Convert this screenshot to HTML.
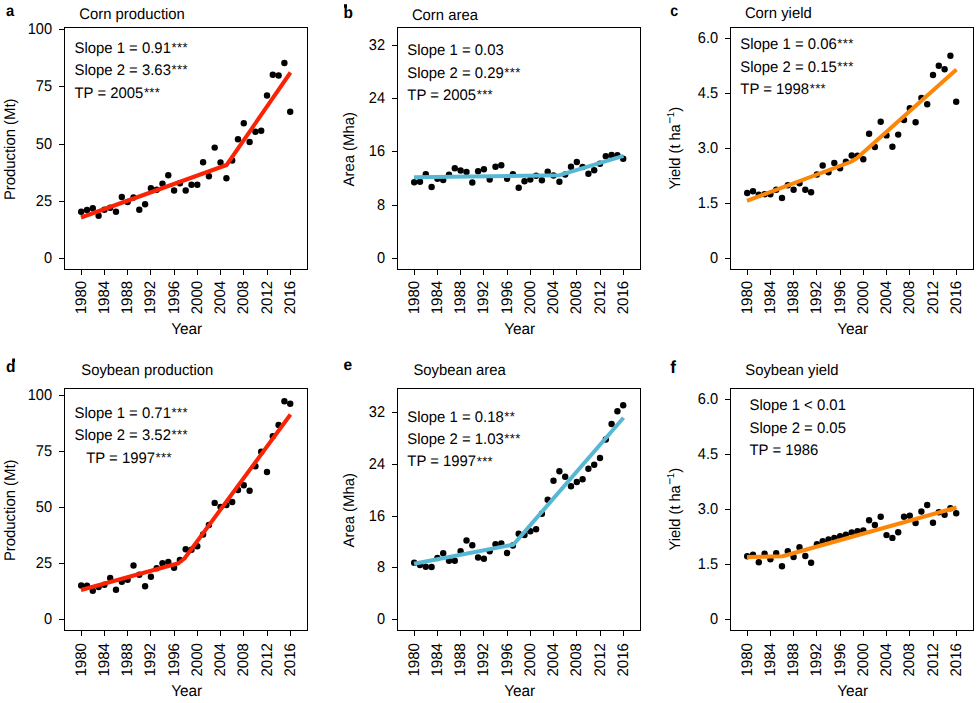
<!DOCTYPE html>
<html><head><meta charset="utf-8"><title>Corn and soybean trends</title>
<style>
html,body{margin:0;padding:0;background:#fff;}
body{width:978px;height:703px;overflow:hidden;}
svg{display:block;font-family:"Liberation Sans",sans-serif;font-size:15.3px;fill:#000;text-rendering:geometricPrecision;}
.ax{stroke:#000;stroke-width:1;fill:none;stroke-linecap:butt;}
.b{font-weight:bold;font-size:15.5px;}
</style></head><body>
<svg width="978" height="703" viewBox="0 0 978 703">
<rect width="978" height="703" fill="#fff"/>
<g id="panel-a">
<text class="b" transform="translate(6.00 15.70) scale(0.950 1.030)">a</text>
<text transform="translate(79.30 18.60) scale(0.970 1)">Corn production</text>
<g fill="#000"><circle cx="81.2" cy="211.7" r="3.2"/><circle cx="87.0" cy="210.0" r="3.2"/><circle cx="92.8" cy="208.3" r="3.2"/><circle cx="98.6" cy="215.8" r="3.2"/><circle cx="104.4" cy="209.7" r="3.2"/><circle cx="110.2" cy="207.8" r="3.2"/><circle cx="116.0" cy="211.7" r="3.2"/><circle cx="121.8" cy="197.0" r="3.2"/><circle cx="127.6" cy="202.0" r="3.2"/><circle cx="133.5" cy="197.5" r="3.2"/><circle cx="139.3" cy="209.7" r="3.2"/><circle cx="145.1" cy="204.2" r="3.2"/><circle cx="150.9" cy="188.3" r="3.2"/><circle cx="156.7" cy="189.7" r="3.2"/><circle cx="162.5" cy="183.8" r="3.2"/><circle cx="168.3" cy="175.3" r="3.2"/><circle cx="174.1" cy="190.5" r="3.2"/><circle cx="179.9" cy="183.3" r="3.2"/><circle cx="185.7" cy="190.5" r="3.2"/><circle cx="191.5" cy="184.7" r="3.2"/><circle cx="197.3" cy="184.7" r="3.2"/><circle cx="203.1" cy="162.2" r="3.2"/><circle cx="208.9" cy="176.2" r="3.2"/><circle cx="214.7" cy="147.6" r="3.2"/><circle cx="220.5" cy="162.5" r="3.2"/><circle cx="226.4" cy="178.2" r="3.2"/><circle cx="232.2" cy="160.5" r="3.2"/><circle cx="238.0" cy="139.2" r="3.2"/><circle cx="243.8" cy="123.3" r="3.2"/><circle cx="249.6" cy="142.0" r="3.2"/><circle cx="255.4" cy="131.7" r="3.2"/><circle cx="261.2" cy="130.8" r="3.2"/><circle cx="267.0" cy="95.5" r="3.2"/><circle cx="272.8" cy="74.7" r="3.2"/><circle cx="278.6" cy="75.5" r="3.2"/><circle cx="284.4" cy="63.0" r="3.2"/><circle cx="290.2" cy="111.7" r="3.2"/></g>
<polyline fill="none" stroke="#fa2306" stroke-width="4" stroke-linejoin="round" points="81.0,217.5 226.6,165.0 290.5,72.5"/>
<rect class="ax" x="64.5" y="27.5" width="243.0" height="242.0"/>
<path class="ax" d="M59.0 29.5H64.5M59.0 86.5H64.5M59.0 144.5H64.5M59.0 201.5H64.5M59.0 258.5H64.5M81.5 269.5V275.0M104.5 269.5V275.0M127.5 269.5V275.0M150.5 269.5V275.0M174.5 269.5V275.0M197.5 269.5V275.0M220.5 269.5V275.0M243.5 269.5V275.0M267.5 269.5V275.0M290.5 269.5V275.0"/>
<text transform="translate(52.10 34.10) scale(0.936 1)" text-anchor="end" font-size="15.6">100</text>
<text transform="translate(52.10 91.10) scale(0.936 1)" text-anchor="end" font-size="15.6">75</text>
<text transform="translate(52.10 149.10) scale(0.936 1)" text-anchor="end" font-size="15.6">50</text>
<text transform="translate(52.10 206.10) scale(0.936 1)" text-anchor="end" font-size="15.6">25</text>
<text transform="translate(52.10 263.10) scale(0.936 1)" text-anchor="end" font-size="15.6">0</text>
<text transform="translate(86.00 280.80) rotate(-90) scale(0.985 1)" text-anchor="end">1980</text>
<text transform="translate(109.00 280.80) rotate(-90) scale(0.985 1)" text-anchor="end">1984</text>
<text transform="translate(132.00 280.80) rotate(-90) scale(0.985 1)" text-anchor="end">1988</text>
<text transform="translate(155.00 280.80) rotate(-90) scale(0.985 1)" text-anchor="end">1992</text>
<text transform="translate(179.00 280.80) rotate(-90) scale(0.985 1)" text-anchor="end">1996</text>
<text transform="translate(202.00 280.80) rotate(-90) scale(0.985 1)" text-anchor="end">2000</text>
<text transform="translate(225.00 280.80) rotate(-90) scale(0.985 1)" text-anchor="end">2004</text>
<text transform="translate(248.00 280.80) rotate(-90) scale(0.985 1)" text-anchor="end">2008</text>
<text transform="translate(272.00 280.80) rotate(-90) scale(0.985 1)" text-anchor="end">2012</text>
<text transform="translate(295.00 280.80) rotate(-90) scale(0.985 1)" text-anchor="end">2016</text>
<text transform="translate(186.70 333.70) scale(0.985 1)" text-anchor="middle" font-size="15.6">Year</text>
<text transform="translate(15.30 149.30) rotate(-90) scale(0.972 1)" text-anchor="middle">Production (Mt)</text>
<text transform="translate(74.50 53.00) scale(0.973 1)">Slope 1 = 0.91<tspan font-size="13.5" dx="0.6" dy="-0.9" letter-spacing="0.35">***</tspan></text>
<text transform="translate(74.50 74.50) scale(0.973 1)">Slope 2 = 3.63<tspan font-size="13.5" dx="0.6" dy="-0.9" letter-spacing="0.35">***</tspan></text>
<text transform="translate(74.50 97.80) scale(0.973 1)">TP = 2005<tspan font-size="13.5" dx="0.6" dy="-0.9" letter-spacing="0.35">***</tspan></text>
</g>
<g id="panel-b">
<text class="b" transform="translate(343.50 17.65) scale(1.000 1.050)">b</text>
<rect x="344.00" y="4.20" width="3.00" height="3.50" fill="#000"/>
<text transform="translate(411.90 20.00) scale(0.970 1)">Corn area</text>
<g fill="#000"><circle cx="414.2" cy="182.2" r="3.2"/><circle cx="420.0" cy="181.7" r="3.2"/><circle cx="425.8" cy="174.2" r="3.2"/><circle cx="431.6" cy="187.0" r="3.2"/><circle cx="437.4" cy="178.7" r="3.2"/><circle cx="443.2" cy="180.0" r="3.2"/><circle cx="449.0" cy="174.7" r="3.2"/><circle cx="454.8" cy="168.3" r="3.2"/><circle cx="460.6" cy="170.5" r="3.2"/><circle cx="466.5" cy="172.0" r="3.2"/><circle cx="472.3" cy="182.5" r="3.2"/><circle cx="478.1" cy="171.2" r="3.2"/><circle cx="483.9" cy="169.2" r="3.2"/><circle cx="489.7" cy="179.5" r="3.2"/><circle cx="495.5" cy="166.7" r="3.2"/><circle cx="501.3" cy="165.3" r="3.2"/><circle cx="507.1" cy="178.8" r="3.2"/><circle cx="512.9" cy="174.3" r="3.2"/><circle cx="518.7" cy="187.8" r="3.2"/><circle cx="524.5" cy="181.2" r="3.2"/><circle cx="530.3" cy="179.6" r="3.2"/><circle cx="536.1" cy="175.8" r="3.2"/><circle cx="541.9" cy="180.3" r="3.2"/><circle cx="547.7" cy="171.7" r="3.2"/><circle cx="553.5" cy="175.5" r="3.2"/><circle cx="559.4" cy="181.7" r="3.2"/><circle cx="565.2" cy="174.5" r="3.2"/><circle cx="571.0" cy="166.7" r="3.2"/><circle cx="576.8" cy="162.0" r="3.2"/><circle cx="582.6" cy="167.0" r="3.2"/><circle cx="588.4" cy="173.8" r="3.2"/><circle cx="594.2" cy="170.3" r="3.2"/><circle cx="600.0" cy="163.8" r="3.2"/><circle cx="605.8" cy="156.3" r="3.2"/><circle cx="611.6" cy="155.0" r="3.2"/><circle cx="617.4" cy="155.3" r="3.2"/><circle cx="623.2" cy="158.8" r="3.2"/></g>
<polyline fill="none" stroke="#58b8d4" stroke-width="4" stroke-linejoin="round" points="414.0,177.2 559.6,175.2 623.5,155.8"/>
<rect class="ax" x="397.5" y="27.5" width="243.0" height="242.0"/>
<path class="ax" d="M392.0 45.5H397.5M392.0 98.5H397.5M392.0 151.5H397.5M392.0 205.5H397.5M392.0 258.5H397.5M414.5 269.5V275.0M437.5 269.5V275.0M460.5 269.5V275.0M483.5 269.5V275.0M507.5 269.5V275.0M530.5 269.5V275.0M553.5 269.5V275.0M576.5 269.5V275.0M600.5 269.5V275.0M623.5 269.5V275.0"/>
<text transform="translate(385.10 50.10) scale(0.936 1)" text-anchor="end" font-size="15.6">32</text>
<text transform="translate(385.10 103.10) scale(0.936 1)" text-anchor="end" font-size="15.6">24</text>
<text transform="translate(385.10 156.10) scale(0.936 1)" text-anchor="end" font-size="15.6">16</text>
<text transform="translate(385.10 210.10) scale(0.936 1)" text-anchor="end" font-size="15.6">8</text>
<text transform="translate(385.10 263.10) scale(0.936 1)" text-anchor="end" font-size="15.6">0</text>
<text transform="translate(419.00 280.80) rotate(-90) scale(0.985 1)" text-anchor="end">1980</text>
<text transform="translate(442.00 280.80) rotate(-90) scale(0.985 1)" text-anchor="end">1984</text>
<text transform="translate(465.00 280.80) rotate(-90) scale(0.985 1)" text-anchor="end">1988</text>
<text transform="translate(488.00 280.80) rotate(-90) scale(0.985 1)" text-anchor="end">1992</text>
<text transform="translate(512.00 280.80) rotate(-90) scale(0.985 1)" text-anchor="end">1996</text>
<text transform="translate(535.00 280.80) rotate(-90) scale(0.985 1)" text-anchor="end">2000</text>
<text transform="translate(558.00 280.80) rotate(-90) scale(0.985 1)" text-anchor="end">2004</text>
<text transform="translate(581.00 280.80) rotate(-90) scale(0.985 1)" text-anchor="end">2008</text>
<text transform="translate(605.00 280.80) rotate(-90) scale(0.985 1)" text-anchor="end">2012</text>
<text transform="translate(628.00 280.80) rotate(-90) scale(0.985 1)" text-anchor="end">2016</text>
<text transform="translate(519.70 333.70) scale(0.985 1)" text-anchor="middle" font-size="15.6">Year</text>
<text transform="translate(354.00 149.30) rotate(-90) scale(0.972 1)" text-anchor="middle">Area (Mha)</text>
<text transform="translate(407.30 54.70) scale(0.973 1)">Slope 1 = 0.03</text>
<text transform="translate(407.30 77.70) scale(0.973 1)">Slope 2 = 0.29<tspan font-size="13.5" dx="0.6" dy="-0.9" letter-spacing="0.35">***</tspan></text>
<text transform="translate(407.30 100.00) scale(0.973 1)">TP = 2005<tspan font-size="13.5" dx="0.6" dy="-0.9" letter-spacing="0.35">***</tspan></text>
</g>
<g id="panel-c">
<text class="b" transform="translate(670.30 15.70) scale(0.920 1.030)">c</text>
<text transform="translate(744.90 18.30) scale(0.970 1)">Corn yield</text>
<g fill="#000"><circle cx="747.2" cy="193.0" r="3.2"/><circle cx="753.0" cy="191.2" r="3.2"/><circle cx="758.8" cy="194.7" r="3.2"/><circle cx="764.6" cy="194.2" r="3.2"/><circle cx="770.4" cy="194.2" r="3.2"/><circle cx="776.2" cy="189.7" r="3.2"/><circle cx="782.0" cy="198.0" r="3.2"/><circle cx="787.8" cy="185.3" r="3.2"/><circle cx="793.6" cy="189.7" r="3.2"/><circle cx="799.5" cy="183.3" r="3.2"/><circle cx="805.3" cy="189.7" r="3.2"/><circle cx="811.1" cy="192.2" r="3.2"/><circle cx="816.9" cy="174.5" r="3.2"/><circle cx="822.7" cy="165.5" r="3.2"/><circle cx="828.5" cy="172.2" r="3.2"/><circle cx="834.3" cy="163.0" r="3.2"/><circle cx="840.1" cy="168.3" r="3.2"/><circle cx="845.9" cy="161.7" r="3.2"/><circle cx="851.7" cy="155.5" r="3.2"/><circle cx="857.5" cy="155.8" r="3.2"/><circle cx="863.3" cy="159.2" r="3.2"/><circle cx="869.1" cy="133.7" r="3.2"/><circle cx="874.9" cy="147.0" r="3.2"/><circle cx="880.7" cy="121.8" r="3.2"/><circle cx="886.5" cy="135.4" r="3.2"/><circle cx="892.4" cy="146.8" r="3.2"/><circle cx="898.2" cy="134.6" r="3.2"/><circle cx="904.0" cy="120.0" r="3.2"/><circle cx="909.8" cy="108.3" r="3.2"/><circle cx="915.6" cy="122.2" r="3.2"/><circle cx="921.4" cy="98.0" r="3.2"/><circle cx="927.2" cy="104.2" r="3.2"/><circle cx="933.0" cy="75.0" r="3.2"/><circle cx="938.8" cy="65.8" r="3.2"/><circle cx="944.6" cy="69.2" r="3.2"/><circle cx="950.4" cy="55.8" r="3.2"/><circle cx="956.2" cy="101.7" r="3.2"/></g>
<polyline fill="none" stroke="#fb8608" stroke-width="4" stroke-linejoin="round" points="747.0,200.8 850.5,162.0 856.5,158.5 956.5,69.5"/>
<rect class="ax" x="730.5" y="27.5" width="243.0" height="242.0"/>
<path class="ax" d="M725.0 38.5H730.5M725.0 93.5H730.5M725.0 148.5H730.5M725.0 203.5H730.5M725.0 258.5H730.5M747.5 269.5V275.0M770.5 269.5V275.0M793.5 269.5V275.0M816.5 269.5V275.0M840.5 269.5V275.0M863.5 269.5V275.0M886.5 269.5V275.0M909.5 269.5V275.0M933.5 269.5V275.0M956.5 269.5V275.0"/>
<text transform="translate(718.10 43.10) scale(0.936 1)" text-anchor="end" font-size="15.6">6.0</text>
<text transform="translate(718.10 98.10) scale(0.936 1)" text-anchor="end" font-size="15.6">4.5</text>
<text transform="translate(718.10 153.10) scale(0.936 1)" text-anchor="end" font-size="15.6">3.0</text>
<text transform="translate(718.10 208.10) scale(0.936 1)" text-anchor="end" font-size="15.6">1.5</text>
<text transform="translate(718.10 263.10) scale(0.936 1)" text-anchor="end" font-size="15.6">0</text>
<text transform="translate(752.00 280.80) rotate(-90) scale(0.985 1)" text-anchor="end">1980</text>
<text transform="translate(775.00 280.80) rotate(-90) scale(0.985 1)" text-anchor="end">1984</text>
<text transform="translate(798.00 280.80) rotate(-90) scale(0.985 1)" text-anchor="end">1988</text>
<text transform="translate(821.00 280.80) rotate(-90) scale(0.985 1)" text-anchor="end">1992</text>
<text transform="translate(845.00 280.80) rotate(-90) scale(0.985 1)" text-anchor="end">1996</text>
<text transform="translate(868.00 280.80) rotate(-90) scale(0.985 1)" text-anchor="end">2000</text>
<text transform="translate(891.00 280.80) rotate(-90) scale(0.985 1)" text-anchor="end">2004</text>
<text transform="translate(914.00 280.80) rotate(-90) scale(0.985 1)" text-anchor="end">2008</text>
<text transform="translate(938.00 280.80) rotate(-90) scale(0.985 1)" text-anchor="end">2012</text>
<text transform="translate(961.00 280.80) rotate(-90) scale(0.985 1)" text-anchor="end">2016</text>
<text transform="translate(852.70 333.70) scale(0.985 1)" text-anchor="middle" font-size="15.6">Year</text>
<text transform="translate(680.30 148.20) rotate(-90) scale(0.954 1)" text-anchor="middle">Yield (t ha<tspan font-size="12.5px" dx="0.6" dy="-6.0">−</tspan><tspan font-size="10px" dx="-0.4" dy="-0.8">1</tspan><tspan dy="6.8">)</tspan></text>
<text transform="translate(740.30 48.70) scale(0.973 1)">Slope 1 = 0.06<tspan font-size="13.5" dx="0.6" dy="-0.9" letter-spacing="0.35">***</tspan></text>
<text transform="translate(740.30 72.00) scale(0.973 1)">Slope 2 = 0.15<tspan font-size="13.5" dx="0.6" dy="-0.9" letter-spacing="0.35">***</tspan></text>
<text transform="translate(740.30 94.10) scale(0.973 1)">TP = 1998<tspan font-size="13.5" dx="0.6" dy="-0.9" letter-spacing="0.35">***</tspan></text>
</g>
<g id="panel-d">
<text class="b" transform="translate(6.00 371.60) scale(1.000 1.050)">d</text>
<rect x="12.20" y="358.50" width="2.80" height="3.50" fill="#000"/>
<text transform="translate(81.30 374.60) scale(0.970 1)">Soybean production</text>
<g fill="#000"><circle cx="81.2" cy="585.5" r="3.2"/><circle cx="87.0" cy="585.8" r="3.2"/><circle cx="92.8" cy="590.8" r="3.2"/><circle cx="98.6" cy="587.0" r="3.2"/><circle cx="104.4" cy="584.7" r="3.2"/><circle cx="110.2" cy="578.0" r="3.2"/><circle cx="116.0" cy="589.7" r="3.2"/><circle cx="121.8" cy="581.7" r="3.2"/><circle cx="127.6" cy="579.7" r="3.2"/><circle cx="133.5" cy="565.5" r="3.2"/><circle cx="139.3" cy="574.7" r="3.2"/><circle cx="145.1" cy="586.2" r="3.2"/><circle cx="150.9" cy="576.7" r="3.2"/><circle cx="156.7" cy="568.3" r="3.2"/><circle cx="162.5" cy="563.3" r="3.2"/><circle cx="168.3" cy="562.0" r="3.2"/><circle cx="174.1" cy="567.7" r="3.2"/><circle cx="179.9" cy="560.0" r="3.2"/><circle cx="185.7" cy="549.2" r="3.2"/><circle cx="191.5" cy="549.7" r="3.2"/><circle cx="197.3" cy="546.2" r="3.2"/><circle cx="203.1" cy="534.5" r="3.2"/><circle cx="208.9" cy="525.0" r="3.2"/><circle cx="214.7" cy="502.9" r="3.2"/><circle cx="220.5" cy="507.0" r="3.2"/><circle cx="226.4" cy="505.0" r="3.2"/><circle cx="232.2" cy="502.0" r="3.2"/><circle cx="238.0" cy="490.0" r="3.2"/><circle cx="243.8" cy="485.3" r="3.2"/><circle cx="249.6" cy="490.8" r="3.2"/><circle cx="255.4" cy="466.2" r="3.2"/><circle cx="261.2" cy="451.7" r="3.2"/><circle cx="267.0" cy="472.0" r="3.2"/><circle cx="272.8" cy="436.2" r="3.2"/><circle cx="278.6" cy="425.0" r="3.2"/><circle cx="284.4" cy="401.2" r="3.2"/><circle cx="290.2" cy="403.7" r="3.2"/></g>
<polyline fill="none" stroke="#fa2306" stroke-width="4" stroke-linejoin="round" points="81.0,590.0 178.5,563.2 184.5,558.5 290.5,414.5"/>
<rect class="ax" x="64.5" y="388.5" width="243.0" height="242.0"/>
<path class="ax" d="M59.0 395.5H64.5M59.0 451.5H64.5M59.0 507.5H64.5M59.0 563.5H64.5M59.0 619.5H64.5M81.5 630.5V636.0M104.5 630.5V636.0M127.5 630.5V636.0M150.5 630.5V636.0M174.5 630.5V636.0M197.5 630.5V636.0M220.5 630.5V636.0M243.5 630.5V636.0M267.5 630.5V636.0M290.5 630.5V636.0"/>
<text transform="translate(52.10 400.10) scale(0.936 1)" text-anchor="end" font-size="15.6">100</text>
<text transform="translate(52.10 456.10) scale(0.936 1)" text-anchor="end" font-size="15.6">75</text>
<text transform="translate(52.10 512.10) scale(0.936 1)" text-anchor="end" font-size="15.6">50</text>
<text transform="translate(52.10 568.10) scale(0.936 1)" text-anchor="end" font-size="15.6">25</text>
<text transform="translate(52.10 624.10) scale(0.936 1)" text-anchor="end" font-size="15.6">0</text>
<text transform="translate(86.00 643.00) rotate(-90) scale(0.985 1)" text-anchor="end">1980</text>
<text transform="translate(109.00 643.00) rotate(-90) scale(0.985 1)" text-anchor="end">1984</text>
<text transform="translate(132.00 643.00) rotate(-90) scale(0.985 1)" text-anchor="end">1988</text>
<text transform="translate(155.00 643.00) rotate(-90) scale(0.985 1)" text-anchor="end">1992</text>
<text transform="translate(179.00 643.00) rotate(-90) scale(0.985 1)" text-anchor="end">1996</text>
<text transform="translate(202.00 643.00) rotate(-90) scale(0.985 1)" text-anchor="end">2000</text>
<text transform="translate(225.00 643.00) rotate(-90) scale(0.985 1)" text-anchor="end">2004</text>
<text transform="translate(248.00 643.00) rotate(-90) scale(0.985 1)" text-anchor="end">2008</text>
<text transform="translate(272.00 643.00) rotate(-90) scale(0.985 1)" text-anchor="end">2012</text>
<text transform="translate(295.00 643.00) rotate(-90) scale(0.985 1)" text-anchor="end">2016</text>
<text transform="translate(186.70 695.50) scale(0.985 1)" text-anchor="middle" font-size="15.6">Year</text>
<text transform="translate(15.30 510.30) rotate(-90) scale(0.972 1)" text-anchor="middle">Production (Mt)</text>
<text transform="translate(74.50 417.80) scale(0.973 1)">Slope 1 = 0.71<tspan font-size="13.5" dx="0.6" dy="-0.9" letter-spacing="0.35">***</tspan></text>
<text transform="translate(74.50 440.00) scale(0.973 1)">Slope 2 = 3.52<tspan font-size="13.5" dx="0.6" dy="-0.9" letter-spacing="0.35">***</tspan></text>
<text transform="translate(86.20 462.80) scale(0.973 1)">TP = 1997<tspan font-size="13.5" dx="0.6" dy="-0.9" letter-spacing="0.35">***</tspan></text>
</g>
<g id="panel-e">
<text class="b" transform="translate(343.50 370.25) scale(1.000 1.030)">e</text>
<text transform="translate(413.40 375.00) scale(0.970 1)">Soybean area</text>
<g fill="#000"><circle cx="414.2" cy="562.8" r="3.2"/><circle cx="420.0" cy="565.0" r="3.2"/><circle cx="425.8" cy="566.7" r="3.2"/><circle cx="431.6" cy="567.0" r="3.2"/><circle cx="437.4" cy="558.0" r="3.2"/><circle cx="443.2" cy="553.3" r="3.2"/><circle cx="449.0" cy="560.8" r="3.2"/><circle cx="454.8" cy="560.8" r="3.2"/><circle cx="460.6" cy="551.2" r="3.2"/><circle cx="466.5" cy="540.5" r="3.2"/><circle cx="472.3" cy="545.2" r="3.2"/><circle cx="478.1" cy="557.5" r="3.2"/><circle cx="483.9" cy="558.7" r="3.2"/><circle cx="489.7" cy="551.3" r="3.2"/><circle cx="495.5" cy="544.2" r="3.2"/><circle cx="501.3" cy="543.5" r="3.2"/><circle cx="507.1" cy="553.0" r="3.2"/><circle cx="512.9" cy="545.5" r="3.2"/><circle cx="518.7" cy="533.7" r="3.2"/><circle cx="524.5" cy="535.0" r="3.2"/><circle cx="530.3" cy="531.3" r="3.2"/><circle cx="536.1" cy="529.2" r="3.2"/><circle cx="541.9" cy="513.8" r="3.2"/><circle cx="547.7" cy="499.7" r="3.2"/><circle cx="553.5" cy="480.8" r="3.2"/><circle cx="559.4" cy="471.2" r="3.2"/><circle cx="565.2" cy="476.8" r="3.2"/><circle cx="571.0" cy="486.3" r="3.2"/><circle cx="576.8" cy="482.0" r="3.2"/><circle cx="582.6" cy="479.2" r="3.2"/><circle cx="588.4" cy="468.8" r="3.2"/><circle cx="594.2" cy="464.7" r="3.2"/><circle cx="600.0" cy="458.0" r="3.2"/><circle cx="605.8" cy="439.5" r="3.2"/><circle cx="611.6" cy="424.0" r="3.2"/><circle cx="617.4" cy="411.3" r="3.2"/><circle cx="623.2" cy="405.3" r="3.2"/></g>
<polyline fill="none" stroke="#58b8d4" stroke-width="4" stroke-linejoin="round" points="414.0,563.8 513.3,544.7 623.5,417.8"/>
<rect class="ax" x="397.5" y="388.5" width="243.0" height="242.0"/>
<path class="ax" d="M392.0 412.5H397.5M392.0 464.5H397.5M392.0 516.5H397.5M392.0 567.5H397.5M392.0 619.5H397.5M414.5 630.5V636.0M437.5 630.5V636.0M460.5 630.5V636.0M483.5 630.5V636.0M507.5 630.5V636.0M530.5 630.5V636.0M553.5 630.5V636.0M576.5 630.5V636.0M600.5 630.5V636.0M623.5 630.5V636.0"/>
<text transform="translate(385.10 417.10) scale(0.936 1)" text-anchor="end" font-size="15.6">32</text>
<text transform="translate(385.10 469.10) scale(0.936 1)" text-anchor="end" font-size="15.6">24</text>
<text transform="translate(385.10 521.10) scale(0.936 1)" text-anchor="end" font-size="15.6">16</text>
<text transform="translate(385.10 572.10) scale(0.936 1)" text-anchor="end" font-size="15.6">8</text>
<text transform="translate(385.10 624.10) scale(0.936 1)" text-anchor="end" font-size="15.6">0</text>
<text transform="translate(419.00 643.00) rotate(-90) scale(0.985 1)" text-anchor="end">1980</text>
<text transform="translate(442.00 643.00) rotate(-90) scale(0.985 1)" text-anchor="end">1984</text>
<text transform="translate(465.00 643.00) rotate(-90) scale(0.985 1)" text-anchor="end">1988</text>
<text transform="translate(488.00 643.00) rotate(-90) scale(0.985 1)" text-anchor="end">1992</text>
<text transform="translate(512.00 643.00) rotate(-90) scale(0.985 1)" text-anchor="end">1996</text>
<text transform="translate(535.00 643.00) rotate(-90) scale(0.985 1)" text-anchor="end">2000</text>
<text transform="translate(558.00 643.00) rotate(-90) scale(0.985 1)" text-anchor="end">2004</text>
<text transform="translate(581.00 643.00) rotate(-90) scale(0.985 1)" text-anchor="end">2008</text>
<text transform="translate(605.00 643.00) rotate(-90) scale(0.985 1)" text-anchor="end">2012</text>
<text transform="translate(628.00 643.00) rotate(-90) scale(0.985 1)" text-anchor="end">2016</text>
<text transform="translate(519.70 695.50) scale(0.985 1)" text-anchor="middle" font-size="15.6">Year</text>
<text transform="translate(354.00 510.30) rotate(-90) scale(0.972 1)" text-anchor="middle">Area (Mha)</text>
<text transform="translate(407.30 422.00) scale(0.973 1)">Slope 1 = 0.18<tspan font-size="13.5" dx="0.6" dy="-0.9" letter-spacing="0.35">**</tspan></text>
<text transform="translate(407.30 443.90) scale(0.973 1)">Slope 2 = 1.03<tspan font-size="13.5" dx="0.6" dy="-0.9" letter-spacing="0.35">***</tspan></text>
<text transform="translate(407.30 466.40) scale(0.973 1)">TP = 1997<tspan font-size="13.5" dx="0.6" dy="-0.9" letter-spacing="0.35">***</tspan></text>
</g>
<g id="panel-f">
<text class="b" transform="translate(670.30 373.37) scale(1.100 1.130)">f</text>
<text transform="translate(745.30 375.00) scale(0.970 1)">Soybean yield</text>
<g fill="#000"><circle cx="747.2" cy="556.3" r="3.2"/><circle cx="753.0" cy="554.7" r="3.2"/><circle cx="758.8" cy="562.2" r="3.2"/><circle cx="764.6" cy="553.7" r="3.2"/><circle cx="770.4" cy="559.2" r="3.2"/><circle cx="776.2" cy="553.3" r="3.2"/><circle cx="782.0" cy="566.3" r="3.2"/><circle cx="787.8" cy="551.2" r="3.2"/><circle cx="793.6" cy="557.0" r="3.2"/><circle cx="799.5" cy="547.2" r="3.2"/><circle cx="805.3" cy="556.0" r="3.2"/><circle cx="811.1" cy="562.7" r="3.2"/><circle cx="816.9" cy="544.2" r="3.2"/><circle cx="822.7" cy="541.2" r="3.2"/><circle cx="828.5" cy="539.5" r="3.2"/><circle cx="834.3" cy="538.0" r="3.2"/><circle cx="840.1" cy="536.2" r="3.2"/><circle cx="845.9" cy="534.7" r="3.2"/><circle cx="851.7" cy="532.5" r="3.2"/><circle cx="857.5" cy="531.3" r="3.2"/><circle cx="863.3" cy="530.5" r="3.2"/><circle cx="869.1" cy="520.3" r="3.2"/><circle cx="874.9" cy="525.0" r="3.2"/><circle cx="880.7" cy="516.7" r="3.2"/><circle cx="886.5" cy="535.1" r="3.2"/><circle cx="892.4" cy="537.9" r="3.2"/><circle cx="898.2" cy="532.3" r="3.2"/><circle cx="904.0" cy="516.7" r="3.2"/><circle cx="909.8" cy="515.8" r="3.2"/><circle cx="915.6" cy="523.0" r="3.2"/><circle cx="921.4" cy="511.5" r="3.2"/><circle cx="927.2" cy="505.0" r="3.2"/><circle cx="933.0" cy="522.8" r="3.2"/><circle cx="938.8" cy="512.2" r="3.2"/><circle cx="944.6" cy="514.7" r="3.2"/><circle cx="950.4" cy="508.3" r="3.2"/><circle cx="956.2" cy="513.3" r="3.2"/></g>
<polyline fill="none" stroke="#fb8608" stroke-width="4" stroke-linejoin="round" points="747.0,557.0 782.5,556.3 956.5,507.5"/>
<rect class="ax" x="730.5" y="388.5" width="243.0" height="242.0"/>
<path class="ax" d="M725.0 399.5H730.5M725.0 454.5H730.5M725.0 509.5H730.5M725.0 564.5H730.5M725.0 619.5H730.5M747.5 630.5V636.0M770.5 630.5V636.0M793.5 630.5V636.0M816.5 630.5V636.0M840.5 630.5V636.0M863.5 630.5V636.0M886.5 630.5V636.0M909.5 630.5V636.0M933.5 630.5V636.0M956.5 630.5V636.0"/>
<text transform="translate(718.10 404.10) scale(0.936 1)" text-anchor="end" font-size="15.6">6.0</text>
<text transform="translate(718.10 459.10) scale(0.936 1)" text-anchor="end" font-size="15.6">4.5</text>
<text transform="translate(718.10 514.10) scale(0.936 1)" text-anchor="end" font-size="15.6">3.0</text>
<text transform="translate(718.10 569.10) scale(0.936 1)" text-anchor="end" font-size="15.6">1.5</text>
<text transform="translate(718.10 624.10) scale(0.936 1)" text-anchor="end" font-size="15.6">0</text>
<text transform="translate(752.00 643.00) rotate(-90) scale(0.985 1)" text-anchor="end">1980</text>
<text transform="translate(775.00 643.00) rotate(-90) scale(0.985 1)" text-anchor="end">1984</text>
<text transform="translate(798.00 643.00) rotate(-90) scale(0.985 1)" text-anchor="end">1988</text>
<text transform="translate(821.00 643.00) rotate(-90) scale(0.985 1)" text-anchor="end">1992</text>
<text transform="translate(845.00 643.00) rotate(-90) scale(0.985 1)" text-anchor="end">1996</text>
<text transform="translate(868.00 643.00) rotate(-90) scale(0.985 1)" text-anchor="end">2000</text>
<text transform="translate(891.00 643.00) rotate(-90) scale(0.985 1)" text-anchor="end">2004</text>
<text transform="translate(914.00 643.00) rotate(-90) scale(0.985 1)" text-anchor="end">2008</text>
<text transform="translate(938.00 643.00) rotate(-90) scale(0.985 1)" text-anchor="end">2012</text>
<text transform="translate(961.00 643.00) rotate(-90) scale(0.985 1)" text-anchor="end">2016</text>
<text transform="translate(852.70 695.50) scale(0.985 1)" text-anchor="middle" font-size="15.6">Year</text>
<text transform="translate(680.30 509.20) rotate(-90) scale(0.954 1)" text-anchor="middle">Yield (t ha<tspan font-size="12.5px" dx="0.6" dy="-6.0">−</tspan><tspan font-size="10px" dx="-0.4" dy="-0.8">1</tspan><tspan dy="6.8">)</tspan></text>
<text transform="translate(749.50 409.70) scale(0.973 1)">Slope 1 &lt; 0.01</text>
<text transform="translate(749.50 433.10) scale(0.973 1)">Slope 2 = 0.05</text>
<text transform="translate(749.50 454.70) scale(0.973 1)">TP = 1986</text>
</g>
</svg>
</body></html>
